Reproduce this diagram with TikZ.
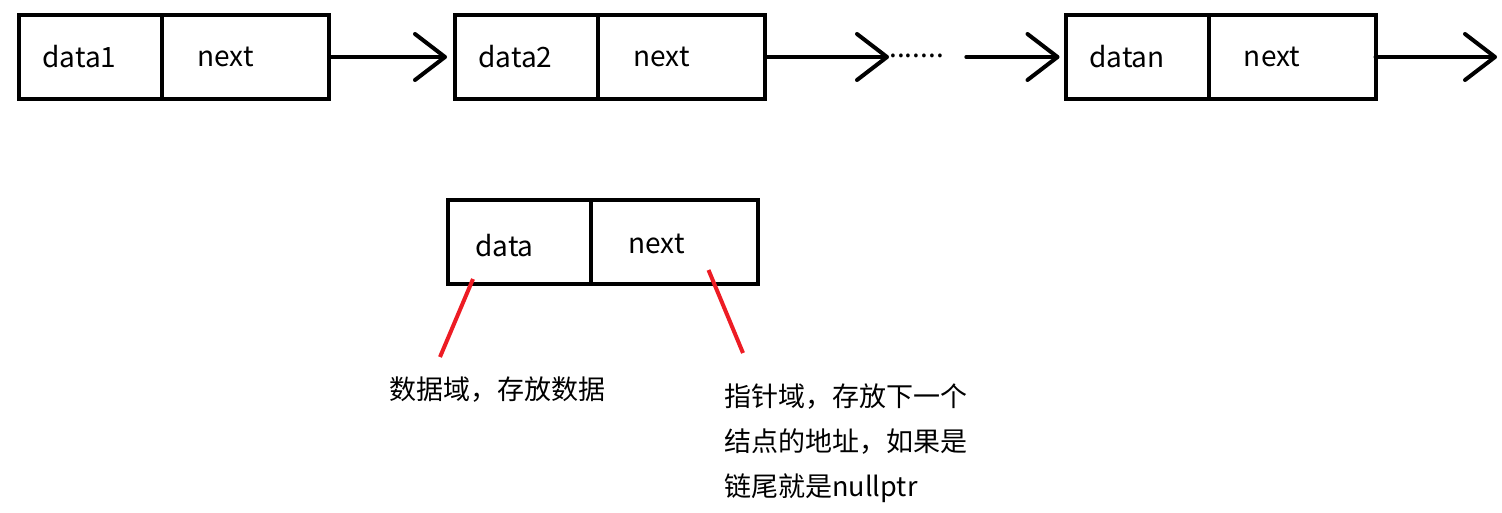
\documentclass[tikz,border=0pt]{standalone}
\usepackage{fontspec}
\setmainfont{Noto Sans CJK SC}
\usetikzlibrary{arrows.meta, positioning}

\definecolor{notered}{RGB}{237,28,36}

\tikzset{
  cell/.style={draw, line width=2pt, minimum height=42pt, inner sep=0pt, outer sep=0pt},
  datacell/.style={cell, minimum width=71.5pt},
  nextcell/.style={cell, minimum width=83.5pt},
  cellText/.style={font=\fontsize{14pt}{16pt}\selectfont, inner sep=0pt},
  link/.style={line width=2pt, line cap=round, -{Straight Barb[length=15pt, width=23pt, round]}},
  note/.style={draw=notered, line width=2pt},
  noteText/.style={font=\fontsize{13.5pt}{22.5pt}\selectfont, align=left, inner sep=0pt, anchor=north west}
}

\begin{document}
\begin{tikzpicture}[x=0.5pt, y=-0.5pt]
    \useasboundingbox (0,0) rectangle (1502,513);

    % Linked list
    \node[datacell] (d1) at (90.5,57) {};
    \node[nextcell, right=0pt of d1] (n1) {};
    \node[datacell] (d2) at (526.5,57) {};
    \node[nextcell, right=0pt of d2] (n2) {};
    \node[datacell] (dn) at (1137,57) {};
    \node[nextcell, right=0pt of dn] (nn) {};

    \node[cellText] (d1t) at ([xshift=-5.5pt]d1.center) {data1};
    \node[cellText] (n1t) at ([xshift=-10pt]n1.center) {next};
    \node[cellText] (d2t) at ([xshift=-5.5pt]d2.center) {data2};
    \node[cellText] (n2t) at ([xshift=-10pt]n2.center) {next};
    \node[cellText] (dnt) at ([xshift=-5pt]dn.center) {datan};
    \node[cellText] (nnt) at ([xshift=-10pt]nn.center) {next};

    \node[cellText, anchor=base west] (dots) at (889,58) {.......};
    \coordinate (tail) at (1497,57);

    \draw[link, shorten >=4pt] (n1.east) -- (d2.west);
    \draw[link] (n2.east) -- (dots.west |- n2.east);
    \draw[link, shorten <=11pt, shorten >=3pt] (dots.east |- dn.west) -- (dn.west);
    \draw[link] (nn.east) -- (tail);

    % One node explained
    \node[datacell] (dd) at (519.5,242) {};
    \node[nextcell, right=0pt of dd] (nd) {};
    \node[cellText] (ddt) at ([xshift=-7.5pt, yshift=-2pt]dd.center) {data};
    \node[cellText] (ndt) at ([xshift=-9pt, yshift=-1pt]nd.center) {next};

    \node[noteText] (t1) at (389,376) {数据域，存放数据};
    \node[noteText] (t2) at (724,383) {指针域，存放下一个\\结点的地址，如果是\\链尾就是nullptr};

    \draw[note] ([shift={(-46.5,-5)}]dd.south) -- ([shift={(51,-19)}]t1.north west);
    \draw[note] ([shift={(34,28)}]nd.center) -- ([shift={(19,-30)}]t2.north west);
\end{tikzpicture}
\end{document}
